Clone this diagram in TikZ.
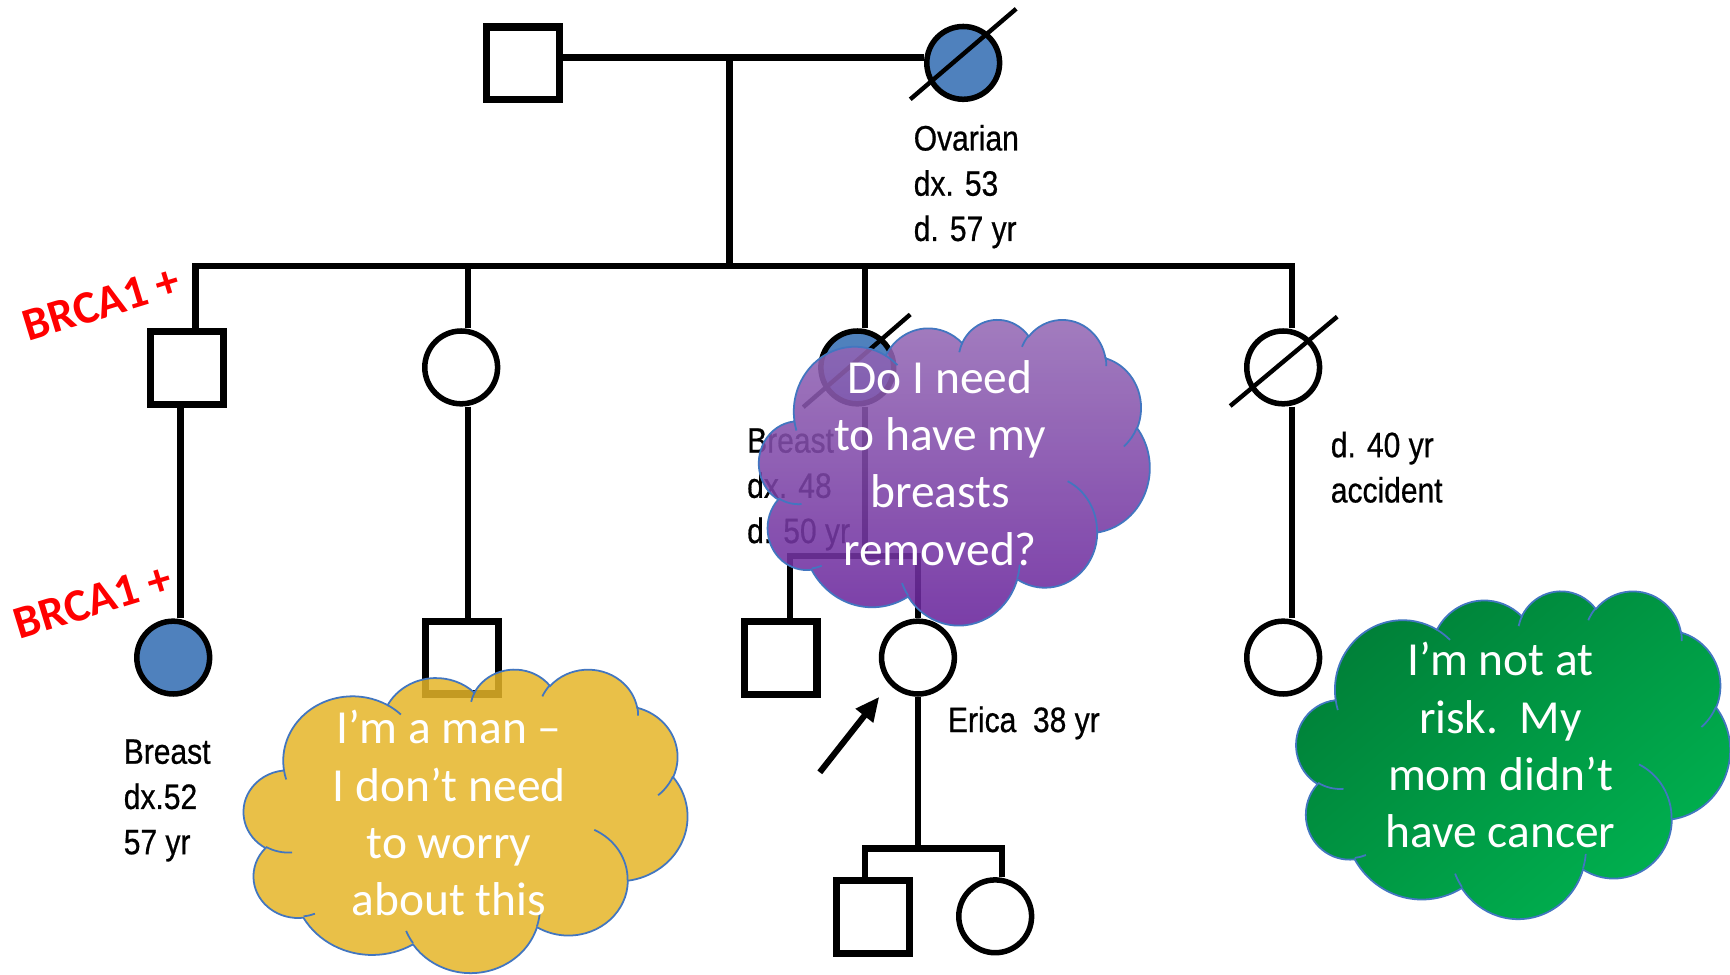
\documentclass[tikz,border=0pt]{standalone}
\usepackage{fontspec}
\setmainfont{Carlito}
\newfontfamily\pedfont[FakeStretch=0.85,FakeBold=0.6]{Liberation Sans}
\newfontfamily\thinkfont{Carlito}
\usetikzlibrary{arrows.meta}

\definecolor{pedblue}{RGB}{79,129,189}
\definecolor{brcared}{RGB}{255,0,0}
\definecolor{cloudedge}{RGB}{66,118,192}
\definecolor{purpletop}{RGB}{150,108,182}
\definecolor{purplebot}{RGB}{104,34,156}
\definecolor{yellowfill}{RGB}{230,182,40}
\definecolor{greentl}{RGB}{0,128,56}
\definecolor{greenbr}{RGB}{0,178,80}

% one arcTo segment of the cloud outline: radii, start angle, sweep (visual angles, y pointing down)
\newcommand\carc[4]{arc[x radius=#1pt, y radius=#2pt,
  start angle={-atan2(#1*sin(#3),#2*cos(#3))},
  delta angle={-mod(atan2(#1*sin(#3+#4),#2*cos(#3+#4))-atan2(#1*sin(#3),#2*cos(#3))+720,360)}]}

% cloud outline in a 432 x 432 box
\newcommand\cloudoutline{(39pt,-143.7pt)
  \carc{67.53}{91.90}{-190.4875}{123.7805}
  \carc{53.33}{72.67}{-144.1024}{89.9452}
  \carc{43.65}{59.45}{-145.8079}{99.7230}
  \carc{48.57}{65.95}{-130.9861}{117.2417}
  \carc{53.33}{72.73}{-78.7089}{109.0269}
  \carc{67.75}{92.20}{-46.2673}{130.2690}
  \carc{57.85}{78.67}{0.6250}{114.0333}
  \carc{67.52}{92.15}{22.4516}{115.1726}
  \carc{77.20}{105.43}{66.2426}{75.7110}
  \carc{43.60}{59.18}{-274.9421}{146.7356}
  \carc{43.45}{59.45}{-246.8285}{152.5189} -- cycle}

% the small inner creases between the puffs
\newcommand\cloudcreases{
  (46.93pt,-261.77pt) \carc{43.45}{59.45}{86.7420}{26.4295}
  (69.28pt,-348.99pt) \carc{43.60}{59.18}{73.6105}{11.4475}
  (164.78pt,-390.90pt) \carc{67.52}{92.15}{137.6242}{14.0811}
  (288.27pt,-347.51pt) \carc{67.52}{92.15}{6.4533}{15.9984}
  (341.29pt,-229.54pt) \carc{57.85}{78.67}{-70.2924}{70.9174}
  (417.98pt,-153.54pt) \carc{53.33}{72.73}{30.3180}{27.7515}
  (383.24pt,-54.26pt) \carc{48.57}{65.95}{-13.7443}{14.8589}
  (290.78pt,-39.52pt) \carc{48.57}{65.95}{-149.1815}{18.1954}
  (221.41pt,-47.20pt) \carc{43.65}{59.45}{-163.4943}{17.6864}
  (140.00pt,-51.92pt) \carc{67.53}{91.90}{-66.7070}{12.3194}
  (41.27pt,-157.89pt) \carc{67.53}{91.90}{157.6544}{11.8582}}

\tikzset{
  kin/.style={line width=6pt},
  male/.style={rectangle, draw, line width=6.5pt, minimum size=66pt, inner sep=0pt, fill=white},
  female/.style={circle, draw, line width=5pt, minimum size=66pt, inner sep=0pt, fill=white},
  affected/.style={fill=pedblue},
  slash/.style={line width=4pt},
  pointer/.style={line width=5.5pt, -{Triangle[length=22pt,width=19pt]}},
  pedlabel/.style={font=\pedfont\fontsize{32}{41}\selectfont, align=left, inner sep=0pt, anchor=north west},
  carrier/.style={text=brcared, font=\thinkfont\bfseries\fontsize{42}{50}\selectfont, rotate=17, inner sep=0pt},
  thought/.style={text=white, font=\thinkfont\fontsize{43}{52}\selectfont, align=center, inner sep=0pt},
  cloudline/.style={draw=cloudedge, line width=1.6pt},
}

\begin{document}
\begin{tikzpicture}[x=1pt, y=-1pt]
\useasboundingbox (0,0) rectangle (1568,883);
\fill[white] (0,0) rectangle (1568,883);

% ---------- generation I ----------
\node[male] (gf) at (474,57.5) {};
\node[female, affected] (gm) at (873,57) {};
\coordinate (mate) at (661,52);
\coordinate (sibL) at (177,241);
\coordinate (sibR) at (1171,241);
\draw[kin] (gf.east |- mate) -- (gm.west |- mate);
\draw[kin] (mate) -- (mate |- sibL);
\draw[slash] (825,90) -- (921,8);

% ---------- generation II ----------
\node[male] (s1) at (169.5,333.5) {};
\node[female] (s2) at (418,333) {};
\node[female, affected] (s3) at (777,333) {};
\node[female] (s4) at (1163,333) {};
\coordinate (s2top) at ([xshift=6pt]s2.north);
\coordinate (s3top) at ([xshift=7pt]s3.north);
\coordinate (s1bot) at ([xshift=-6pt]s1.south);
\coordinate (s2bot) at ([xshift=6pt]s2.south);
\coordinate (s3bot) at ([xshift=7pt]s3.south);
\coordinate (s4bot) at ([xshift=8pt]s4.south);
\draw[kin] (s1.north -| sibL) -- (sibL) -- (sibR) -- (s4.north -| sibR);
\draw[kin] (s2top |- sibL) -- (s2top);
\draw[kin] (s3top |- sibL) -- (s3top);
\draw[slash] (728,369) -- (825,285);
\draw[slash] (1115,368) -- (1212,287);

% ---------- generation III ----------
\node[female, affected] (d1) at (157,596) {};
\node[male] (c2) at (418.5,596) {};
\node[male] (c3) at (707.5,596.5) {};
\node[female] (erica) at (832,596) {};
\node[female] (d4) at (1163,596) {};
\coordinate (kids3) at (784,504);
\coordinate (c3top) at ([xshift=8.5pt]c3.north);
\draw[kin] (s1bot) -- (s1bot |- d1.north);
\draw[kin] (s2bot) -- (s2bot |- c2.north);
\draw[kin] (s4bot) -- (s4bot |- d4.north);
\draw[kin] (s3bot) -- (kids3);
\draw[kin] (c3top) |- (erica.north |- kids3) -- (erica.north);

% ---------- generation IV ----------
\node[male] (g1) at (791.5,831) {};
\node[female] (g2) at (902,830.5) {};
\coordinate (kidsbar) at (832,769);
\coordinate (g1top) at ([xshift=-7.5pt]g1.north);
\coordinate (g2top) at ([xshift=6pt]g2.north);
\draw[kin] (erica.south) -- (kidsbar);
\draw[kin] (g1top) |- (g2top |- kidsbar) -- (g2top);

% proband arrow
\coordinate (arrowtail) at (743,700);
\coordinate (arrowtip) at (797,631.5);
\draw[pointer] (arrowtail) -- (arrowtip);

% ---------- labels ----------
\node[pedlabel] (gmnote) at (828,113) {Ovarian\\dx. 53\\d. 57 yr};
\node[pedlabel] (s3note) at (677,388) {Breast\\dx. 48\\d. 50 yr};
\node[pedlabel] (s4note) at (1206,391) {d. 40 yr\\accident};
\node[pedlabel] (d1note) at (112,670) {Breast\\dx.52\\57 yr};
\node[pedlabel, anchor=base west] (ericanote) at (859,663.5) {Erica\ \ 38 yr};
\node[carrier] (brcaA) at (92,275) {BRCA1 +};
\node[carrier] (brcaB) at (84,545) {BRCA1 +};

% ---------- thought clouds ----------
\begin{scope}[shift={(688,289)}, xscale=354/432, yscale=277/432]
  \path[top color=purpletop, bottom color=purplebot, fill opacity=0.88, draw=cloudedge, draw opacity=1, line width=1.6pt] \cloudoutline;
  \draw[cloudline] \cloudcreases;
\end{scope}
\begin{scope}[shift={(221,606)}, xscale=402/432, yscale=275/432]
  \path[fill=yellowfill, fill opacity=0.85, draw=cloudedge, draw opacity=1, line width=1.6pt] \cloudoutline;
  \draw[cloudline] \cloudcreases;
\end{scope}
\begin{scope}[shift={(1175,535)}, xscale=393/432, yscale=297/432]
  \path[top color=greentl, bottom color=greenbr, shading angle=40, draw=cloudedge, line width=1.6pt] \cloudoutline;
  \draw[cloudline] \cloudcreases;
\end{scope}

\node[thought] (qpurple) at (852,419.5) {Do I need\\to have my\\breasts\\removed?};
\node[thought] (qyellow) at (407,737) {I’m a man –\\I don’t need\\to worry\\about this};
\node[thought] (qgreen) at (1360,675.5) {I’m not at\\risk.\ \ My\\mom didn’t\\have cancer};
\end{tikzpicture}
\end{document}
